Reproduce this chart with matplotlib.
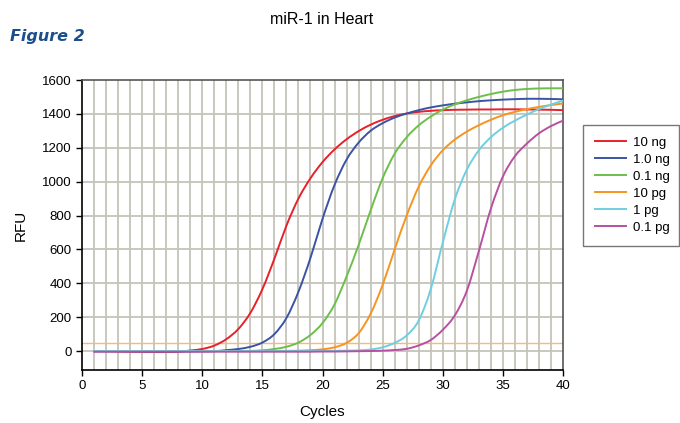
import matplotlib
matplotlib.use("Agg")
import matplotlib.pyplot as plt
from matplotlib.path import Path
from matplotlib.patches import PathPatch
from matplotlib.lines import Line2D
import numpy as np

plt.rcParams['font.family'] = ['Liberation Sans', 'DejaVu Sans']

cycles = list(range(1, 41))

# RFU readings per cycle
rfu_10ng = [0, 0, -2, -4, -5, -6, -6, -4, 3, 12, 32, 70, 130, 225, 365, 545, 740, 900,
            1020, 1115, 1190, 1250, 1298, 1336, 1365, 1387, 1402, 1412, 1418, 1422,
            1424, 1425, 1426, 1426, 1427, 1427, 1426, 1425, 1424, 1422]
rfu_1ng = [-2, -2, -2, -2, -3, -3, -3, -3, -3, -2, -1, 5, 12, 25, 50, 100, 195, 350,
           550, 780, 980, 1130, 1230, 1300, 1345, 1378, 1402, 1422, 1438, 1450,
           1460, 1468, 1475, 1480, 1484, 1487, 1489, 1489, 1488, 1486]
rfu_01ng = [0, 0, 0, 0, 0, 0, 0, 0, 0, 0, 0, 0, 0, 1, 4, 12, 25, 50, 95, 165, 275,
            440, 625, 830, 1020, 1165, 1262, 1332, 1384, 1425, 1456, 1480, 1500,
            1517, 1531, 1541, 1547, 1550, 1551, 1551]
rfu_10pg = [0, 0, 0, 0, 0, 0, 0, 0, 0, 0, 0, 0, 0, 0, 0, 0, 1, 2, 5, 10, 22, 48, 105,
            220, 390, 600, 800, 970, 1095, 1185, 1248, 1295, 1333, 1365, 1392, 1412,
            1428, 1441, 1452, 1461]
rfu_1pg = [0, 0, 0, 0, 0, 0, 0, 0, 0, 0, 0, 0, 0, 0, 0, 0, 0, 0, 0, 0, 1, 2, 4, 9,
           22, 48, 92, 180, 365, 640, 895, 1070, 1185, 1262, 1318, 1360, 1396, 1428,
           1455, 1478]
rfu_01pg = [-4, -4, -4, -4, -4, -4, -4, -4, -4, -4, -4, -4, -4, -4, -4, -4, -4, -4,
            -4, -3, -3, -2, -1, 0, 2, 6, 13, 33, 65, 125, 210, 355, 590, 840, 1030,
            1150, 1225, 1285, 1328, 1360]

labels = ['10 ng', '1.0 ng', '0.1 ng', '10 pg', '1 pg', '0.1 pg']
colors = ['#e8202a', '#3a53a4', '#6cbf4a', '#f7941d', '#6dcfe0', '#b8509f']
threshold = 45


def smooth_path(x, y):
    # Catmull-Rom through the readings, drawn as cubic Bezier segments
    x = np.asarray(x, float)
    y = np.asarray(y, float)
    verts = [(x[0], y[0])]
    codes = [Path.MOVETO]
    n = len(x)
    for i in range(n - 1):
        p0 = i - 1 if i > 0 else i
        p3 = i + 2 if i + 2 < n else i + 1
        c1 = (x[i] + (x[i + 1] - x[p0]) / 6, y[i] + (y[i + 1] - y[p0]) / 6)
        c2 = (x[i + 1] - (x[p3] - x[i]) / 6, y[i + 1] - (y[p3] - y[i]) / 6)
        verts += [c1, c2, (x[i + 1], y[i + 1])]
        codes += [Path.CURVE4] * 3
    return Path(verts, codes)


fig = plt.figure(figsize=(6.8, 4.23), dpi=100)
ax = fig.add_axes([82 / 680, 1 - 370 / 423, (563 - 82) / 680, (370 - 80) / 423])

ax.set_xlim(0, 40)
ax.set_ylim(-112, 1600)

# light grid: every cycle vertically, every 200 RFU horizontally
for c in range(1, 40):
    ax.axvline(c, color='#c4c4ba', lw=1.3, zorder=1)
for v in range(0, 1600, 200):
    ax.axhline(v, color='#c4c4ba', lw=1.3, zorder=1)

ax.axhline(threshold, color='#f6b978', lw=1.0, zorder=2)

series = [rfu_10ng, rfu_1ng, rfu_01ng, rfu_10pg, rfu_1pg, rfu_01pg]
handles = []
for vals, lab, col in zip(series, labels, colors):
    patch = PathPatch(smooth_path(cycles, vals), facecolor='none', edgecolor=col,
                      lw=1.4, zorder=3, capstyle='round', joinstyle='round')
    ax.add_patch(patch)
    handles.append(Line2D([], [], color=col, lw=1.4, label=lab))

ax.set_xticks(range(0, 41, 5))
ax.set_yticks(range(0, 1601, 200))
ax.tick_params(direction='out', length=4, width=1, labelsize=9.5, colors='black')

for side in ['left', 'bottom']:
    ax.spines[side].set_color('black')
    ax.spines[side].set_linewidth(1.2)
for side in ['top', 'right']:
    ax.spines[side].set_color('#555555')
    ax.spines[side].set_linewidth(1.2)

ax.set_xlabel('Cycles', fontsize=11, labelpad=9)
ax.set_ylabel('RFU', fontsize=11, labelpad=10)
fig.text(322 / 680, 1 - 20 / 423, 'miR-1 in Heart', ha='center', va='center', fontsize=11.5)
fig.text(10 / 680, 1 - 37 / 423, 'Figure 2', ha='left', va='center', fontsize=11.5,
         fontweight='bold', fontstyle='italic', color='#1b4f8c', family='DejaVu Sans')

leg = fig.legend(handles=handles, loc='upper left',
                 bbox_to_anchor=(583 / 680, 1 - 243 / 423, 96 / 680, 118 / 423),
                 mode='expand', borderaxespad=0,
                 frameon=True, fancybox=False, fontsize=9.5, handlelength=2.35,
                 labelspacing=0.36, borderpad=0.9, handletextpad=0.55)
leg.get_frame().set_edgecolor('#555555')
leg.get_frame().set_linewidth(1.0)

fig.savefig('out.png', dpi=100)
